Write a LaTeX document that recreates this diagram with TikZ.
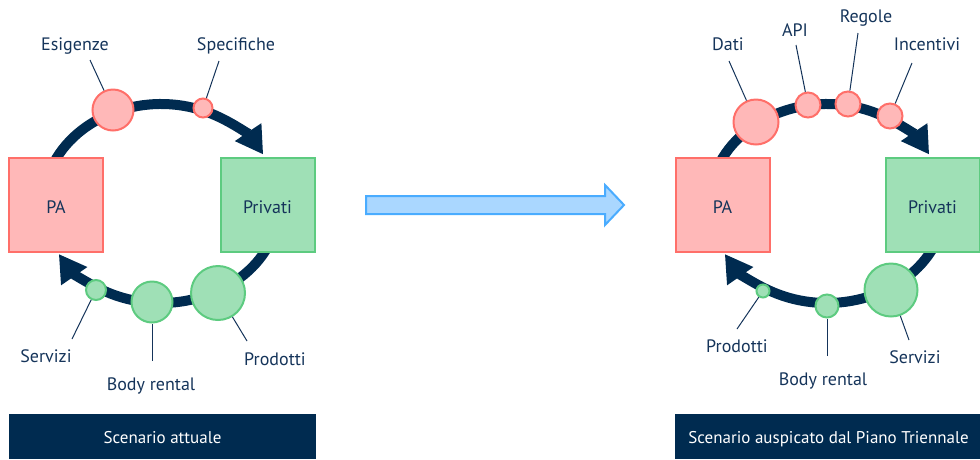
\documentclass[tikz,border=0pt]{standalone}
\usepackage{fontspec}
\setmainfont{PT Sans}
\usetikzlibrary{arrows.meta}

\definecolor{navy}{HTML}{002B50}
\definecolor{inkblue}{HTML}{15345A}
\definecolor{pinkfill}{HTML}{FFB8B8}
\definecolor{pinkline}{HTML}{FF6F69}
\definecolor{greenfill}{HTML}{9FE0B6}
\definecolor{greenline}{HTML}{5DCB80}
\definecolor{bluefill}{HTML}{AAD7FF}
\definecolor{blueline}{HTML}{4AACFF}

\begin{document}
\begin{tikzpicture}[x=1pt, y=-1pt,
  txt/.style={font=\fontsize{18}{20}\selectfont, text=inkblue},
  party/.style={txt, draw, line width=2pt, minimum width=94pt, minimum height=94pt,
    inner sep=0pt, text height=16pt, text depth=0pt},
  pabox/.style={party, draw=pinkline, fill=pinkfill},
  privbox/.style={party, draw=greenline, fill=greenfill},
  flow/.style={draw=navy, line width=10pt, -{Triangle[length=27pt, width=30pt]}},
  pinkdot/.style={circle, draw=pinkline, fill=pinkfill, line width=2pt, inner sep=0pt},
  greendot/.style={circle, draw=greenline, fill=greenfill, line width=2pt, inner sep=0pt},
  lbl/.style={txt, inner sep=0pt, anchor=base},
  leader/.style={draw=inkblue, line width=1pt},
  caption/.style={fill=navy, text=white, font=\fontsize{17}{20}\selectfont,
    minimum width=307pt, minimum height=45pt, inner sep=0pt, text height=13pt, text depth=0pt},
  bigarrow/.style={draw=blueline, fill=bluefill, line width=2pt, line join=miter}
]
\useasboundingbox (0,0) rectangle (980,459);

% ---------- current scenario ----------
\coordinate (oL) at (161,205);
\draw[flow] (oL) ++(205:118 and 101) arc[start angle=205, end angle=330, x radius=118, y radius=101];
\draw[flow] (oL) ++(25:118 and 98) arc[start angle=25, end angle=150, x radius=118, y radius=98];

\node[pabox] (paL) at (56,205) {PA};
\node[privbox] (privL) at (267.5,205) {Privati};

\node[pinkdot, minimum size=41pt] (esig) at (113,110) {};
\node[pinkdot, minimum size=19pt] (spec) at (203,108) {};
\node[greendot, minimum size=20pt] (servL) at (96,290) {};
\node[greendot, minimum size=41pt] (bodyL) at (152,302) {};
\node[greendot, minimum size=54pt] (prodL) at (218,293) {};

\node[lbl] (tEsig) at (75,50) {Esigenze};
\node[lbl] (tSpec) at (236,50) {Specifiche};
\node[lbl] (tServL) at (46,362) {Servizi};
\node[lbl] (tBodyL) at (151,390) {Body rental};
\node[lbl] (tProdL) at (275,365) {Prodotti};

\coordinate (kEsig) at (90,60);
\coordinate (kSpec) at (219,61);
\coordinate (kServL) at (72,339);
\coordinate (kBodyL) at (152,361);
\coordinate (kProdL) at (247,341);
\draw[leader] (kEsig) -- (esig);
\draw[leader] (kSpec) -- (spec);
\draw[leader] (kServL) -- (servL);
\draw[leader] (kBodyL) -- (bodyL);
\draw[leader] (kProdL) -- (prodL);

\node[caption] (capL) at (162.5,436.5) {Scenario attuale};

% ---------- transition arrow ----------
\draw[bigarrow] (366,196) -- (605,196) -- (605,185) -- (624,205) -- (605,225)
  -- (605,214) -- (366,214) -- cycle;

% ---------- target scenario ----------
\coordinate (oR) at (827,205);
\draw[flow] (oR) ++(205:118 and 101) arc[start angle=205, end angle=330, x radius=118, y radius=101];
\draw[flow] (oR) ++(25:118 and 98) arc[start angle=25, end angle=150, x radius=118, y radius=98];

\node[pabox] (paR) at (722.5,205) {PA};
\node[privbox] (privR) at (932.5,205) {Privati};

\node[pinkdot, minimum size=45pt] (dati) at (756,122) {};
\node[pinkdot, minimum size=25pt] (api) at (808,105) {};
\node[pinkdot, minimum size=25pt] (regole) at (848,104) {};
\node[pinkdot, minimum size=25pt] (incent) at (890,116) {};
\node[greendot, minimum size=13pt] (prodR) at (763,291) {};
\node[greendot, minimum size=23pt] (bodyR) at (827,306) {};
\node[greendot, minimum size=53pt] (servR) at (891,290) {};

\node[lbl] (tDati) at (728,50) {Dati};
\node[lbl] (tApi) at (795,36) {API};
\node[lbl] (tRegole) at (866,22) {Regole};
\node[lbl] (tIncent) at (927,50) {Incentivi};
\node[lbl] (tProdR) at (737,352) {Prodotti};
\node[lbl] (tBodyR) at (823,385) {Body rental};
\node[lbl] (tServR) at (915,363) {Servizi};

\coordinate (kDati) at (729,61);
\coordinate (kApi) at (796,45);
\coordinate (kRegole) at (858,33);
\coordinate (kIncent) at (912,63);
\coordinate (kProdR) at (737,329);
\coordinate (kBodyR) at (827,356);
\coordinate (kServR) at (909,340);
\draw[leader] (kDati) -- (dati);
\draw[leader] (kApi) -- (api);
\draw[leader] (kRegole) -- (regole);
\draw[leader] (kIncent) -- (incent);
\draw[leader] (kProdR) -- (prodR);
\draw[leader] (kBodyR) -- (bodyR);
\draw[leader] (kServR) -- (servR);

\node[caption] (capR) at (828.5,436.5) {Scenario auspicato dal Piano Triennale};
\end{tikzpicture}
\end{document}
